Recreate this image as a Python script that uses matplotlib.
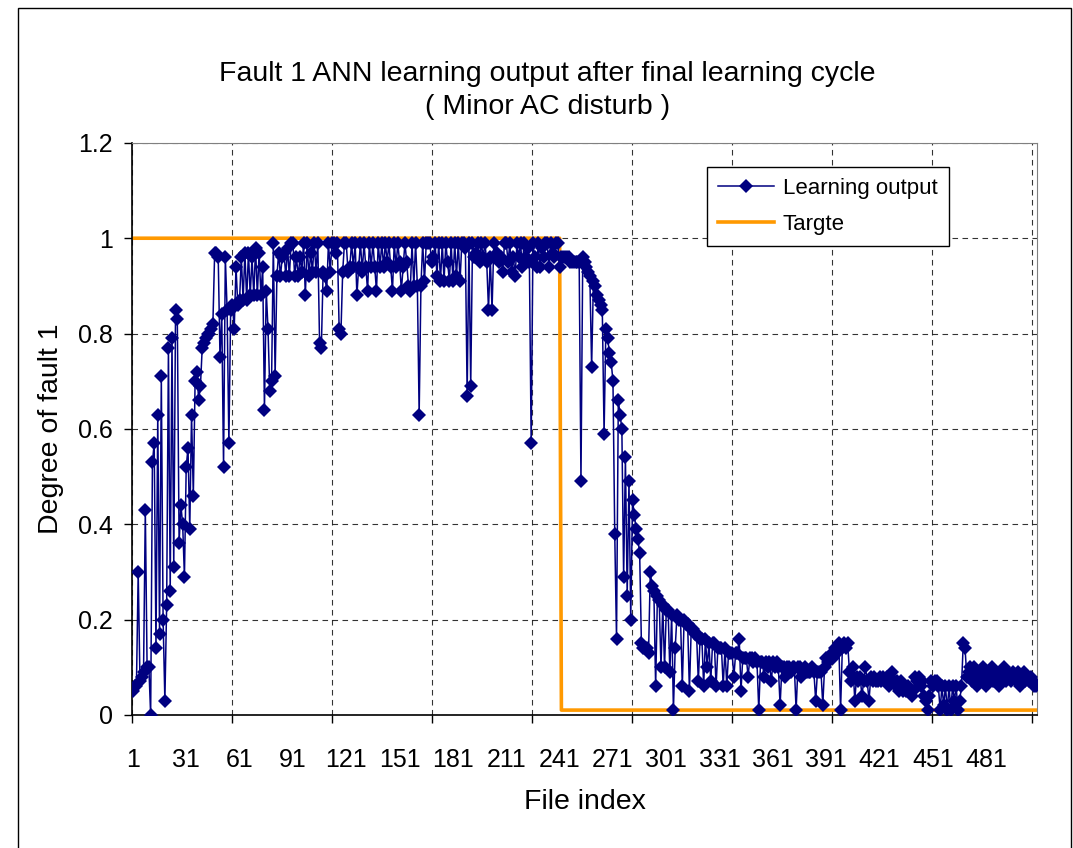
import numpy as np
import matplotlib
matplotlib.use("Agg")
import matplotlib.pyplot as plt
from matplotlib.patches import Rectangle

plt.rcParams["font.family"] = ["Liberation Sans", "DejaVu Sans"]

# learning output of the ANN, one value per file
learning_output = [
    0.05, 0.06, 0.06, 0.30, 0.07, 0.08, 0.09, 0.43, 0.10, 0.10,
    0.00, 0.53, 0.57, 0.14, 0.63, 0.17, 0.71, 0.20, 0.03, 0.23,
    0.77, 0.26, 0.79, 0.31, 0.85, 0.83, 0.36, 0.44, 0.40, 0.29,
    0.52, 0.56, 0.39, 0.63, 0.46, 0.70, 0.72, 0.66, 0.69, 0.77,
    0.78, 0.79, 0.80, 0.80, 0.81, 0.82, 0.97, 0.97, 0.96, 0.75,
    0.84, 0.52, 0.96, 0.85, 0.57, 0.85, 0.86, 0.81, 0.94, 0.86,
    0.87, 0.96, 0.87, 0.97, 0.87, 0.97, 0.88, 0.96, 0.88, 0.98,
    0.88, 0.97, 0.88, 0.94, 0.64, 0.89, 0.81, 0.68, 0.70, 0.99,
    0.71, 0.92, 0.97, 0.92, 0.96, 0.97, 0.92, 0.98, 0.92, 0.99,
    0.99, 0.92, 0.96, 0.92, 0.96, 0.93, 0.99, 0.88, 0.99, 0.92,
    0.97, 0.93, 0.99, 0.93, 0.99, 0.78, 0.77, 0.93, 0.92, 0.89,
    0.99, 0.93, 0.99, 0.99, 0.97, 0.99, 0.81, 0.80, 0.93, 0.99,
    0.99, 0.93, 0.94, 0.99, 0.94, 0.99, 0.88, 0.94, 0.99, 0.93,
    0.99, 0.94, 0.89, 0.99, 0.94, 0.99, 0.94, 0.89, 0.99, 0.94,
    0.99, 0.94, 0.99, 0.95, 0.99, 0.94, 0.89, 0.99, 0.94, 0.99,
    0.95, 0.89, 0.94, 0.99, 0.95, 0.90, 0.89, 0.99, 0.90, 0.99,
    0.90, 0.63, 0.90, 0.99, 0.91, 0.99, 0.99, 0.99, 0.95, 0.96,
    0.99, 0.92, 0.99, 0.91, 0.99, 0.91, 0.99, 0.95, 0.91, 0.99,
    0.91, 0.99, 0.92, 0.99, 0.91, 0.99, 0.99, 0.98, 0.67, 0.99,
    0.69, 0.99, 0.96, 0.97, 0.99, 0.95, 0.99, 0.96, 0.99, 0.95,
    0.85, 0.96, 0.85, 0.99, 0.96, 0.97, 0.95, 0.96, 0.93, 0.99,
    0.99, 0.95, 0.99, 0.93, 0.96, 0.92, 0.99, 0.96, 0.99, 0.94,
    0.99, 0.96, 0.98, 0.95, 0.57, 0.99, 0.96, 0.94, 0.99, 0.94,
    0.98, 0.96, 0.99, 0.99, 0.94, 0.99, 0.97, 0.96, 0.99, 0.99,
    0.94, 0.96, 0.96, 0.96, 0.96, 0.96, 0.95, 0.95, 0.95, 0.95,
    0.95, 0.95, 0.49, 0.96, 0.95, 0.94, 0.93, 0.92, 0.73, 0.91,
    0.90, 0.88, 0.87, 0.86, 0.85, 0.59, 0.81, 0.79, 0.76, 0.74,
    0.70, 0.38, 0.16, 0.66, 0.63, 0.60, 0.29, 0.54, 0.25, 0.49,
    0.20, 0.45, 0.42, 0.39, 0.37, 0.34, 0.15, 0.14, 0.14, 0.14,
    0.13, 0.30, 0.27, 0.26, 0.06, 0.25, 0.24, 0.10, 0.23, 0.10,
    0.22, 0.22, 0.09, 0.21, 0.01, 0.14, 0.21, 0.20, 0.20, 0.06,
    0.20, 0.19, 0.19, 0.05, 0.18, 0.18, 0.17, 0.17, 0.07, 0.16,
    0.16, 0.06, 0.16, 0.10, 0.15, 0.07, 0.15, 0.15, 0.06, 0.14,
    0.14, 0.14, 0.06, 0.14, 0.06, 0.13, 0.13, 0.13, 0.08, 0.13,
    0.13, 0.16, 0.05, 0.12, 0.12, 0.12, 0.08, 0.12, 0.12, 0.11,
    0.12, 0.11, 0.01, 0.11, 0.11, 0.08, 0.11, 0.10, 0.11, 0.07,
    0.11, 0.10, 0.11, 0.10, 0.02, 0.10, 0.10, 0.08, 0.10, 0.10,
    0.09, 0.10, 0.10, 0.01, 0.10, 0.10, 0.08, 0.09, 0.10, 0.09,
    0.09, 0.09, 0.10, 0.09, 0.03, 0.09, 0.09, 0.09, 0.02, 0.10,
    0.12, 0.11, 0.12, 0.13, 0.12, 0.14, 0.13, 0.15, 0.01, 0.14,
    0.15, 0.14, 0.15, 0.09, 0.07, 0.10, 0.03, 0.08, 0.07, 0.08,
    0.04, 0.07, 0.10, 0.07, 0.03, 0.08, 0.07, 0.08, 0.07, 0.07,
    0.08, 0.07, 0.08, 0.07, 0.08, 0.06, 0.08, 0.09, 0.07, 0.06,
    0.07, 0.05, 0.07, 0.05, 0.06, 0.05, 0.06, 0.05, 0.04, 0.05,
    0.08, 0.07, 0.08, 0.06, 0.07, 0.04, 0.03, 0.01, 0.04, 0.07,
    0.06, 0.07, 0.07, 0.06, 0.01, 0.06, 0.02, 0.06, 0.01, 0.06,
    0.01, 0.06, 0.03, 0.06, 0.01, 0.03, 0.06, 0.15, 0.14, 0.08,
    0.09, 0.10, 0.07, 0.10, 0.08, 0.06, 0.09, 0.07, 0.10, 0.09,
    0.06, 0.09, 0.08, 0.10, 0.07, 0.09, 0.08, 0.06, 0.09, 0.08,
    0.10, 0.07, 0.09, 0.08, 0.07, 0.09, 0.08, 0.07, 0.09, 0.06,
    0.08, 0.09, 0.07, 0.08, 0.07, 0.08, 0.07, 0.06, 0.06,
]

n_files = len(learning_output)
file_index = np.arange(1, n_files + 1)

# target: fault present for the first 241 files, absent afterwards
fault_files = 241
target_high = 1.0
target_low = 0.01
target = [target_high] * fault_files + [target_low] * (n_files - fault_files)

label_ticks = list(range(1, 482, 30))
y_ticks = [0, 0.2, 0.4, 0.6, 0.8, 1.0, 1.2]
y_tick_labels = ["0", "0.2", "0.4", "0.6", "0.8", "1", "1.2"]

fig = plt.figure(figsize=(10.73, 8.48), dpi=100)

ax = fig.add_axes([0.123, 0.157, 0.8435, 0.6745])

ax.plot(
    file_index,
    learning_output,
    color="#000080",
    linewidth=1.1,
    marker="D",
    markersize=7.5,
    markeredgewidth=0,
    label="Learning output",
    zorder=3
)

ax.plot(
    file_index,
    target,
    color="#FF9900",
    linewidth=2.6,
    label="Targte",
    zorder=2
)

ax.set_xlim(0.5, n_files + 0.5)
ax.set_ylim(0, 1.2)

# gridlines / tick marks every ~56 files, labels every 30 files
grid_step = 56.25
ax.set_xticks(np.arange(0.5, n_files + 0.5, grid_step))
ax.set_xticklabels([])
ax.set_xticks(label_ticks, minor=True)
ax.set_xticklabels([str(t) for t in label_ticks], minor=True, fontsize=18)
ax.tick_params(axis="x", which="major", length=6, width=1, direction="out")
ax.tick_params(axis="x", which="minor", length=0, pad=24)

ax.set_yticks(y_ticks)
ax.set_yticklabels(y_tick_labels, fontsize=18)
ax.tick_params(axis="y", length=6, width=1, direction="out", pad=8)

ax.grid(
    which="major",
    color="black",
    linestyle=(0, (5, 4)),
    linewidth=0.8,
    alpha=0.8
)
ax.set_axisbelow(True)

ax.spines["left"].set_linewidth(1.2)
ax.spines["bottom"].set_linewidth(1.2)
ax.spines["top"].set_color("#808080")
ax.spines["right"].set_color("#808080")

ax.set_xlabel("File index", fontsize=20.5, labelpad=12)
ax.set_ylabel("Degree of fault 1", fontsize=20.5, labelpad=10)

fig.text(
    0.51,
    0.893,
    "Fault 1 ANN learning output after final learning cycle\n( Minor AC disturb )",
    ha="center",
    va="center",
    fontsize=20.5,
    linespacing=1.35
)

ax.legend(
    loc="upper left",
    bbox_to_anchor=(0.659, 0.803),
    bbox_transform=fig.transFigure,
    fontsize=16,
    frameon=True,
    fancybox=False,
    edgecolor="black",
    framealpha=1,
    borderaxespad=0,
    handlelength=2.5,
    handletextpad=0.4,
    borderpad=0.5,
    labelspacing=0.65
).get_frame().set_linewidth(1.0)

fig.add_artist(
    Rectangle(
        (18 / 1073, -0.01),
        (1071 - 18) / 1073,
        1.01 - 8 / 848,
        transform=fig.transFigure,
        fill=False,
        edgecolor="black",
        linewidth=1.0
    )
)

fig.savefig("out.png", dpi=100)
